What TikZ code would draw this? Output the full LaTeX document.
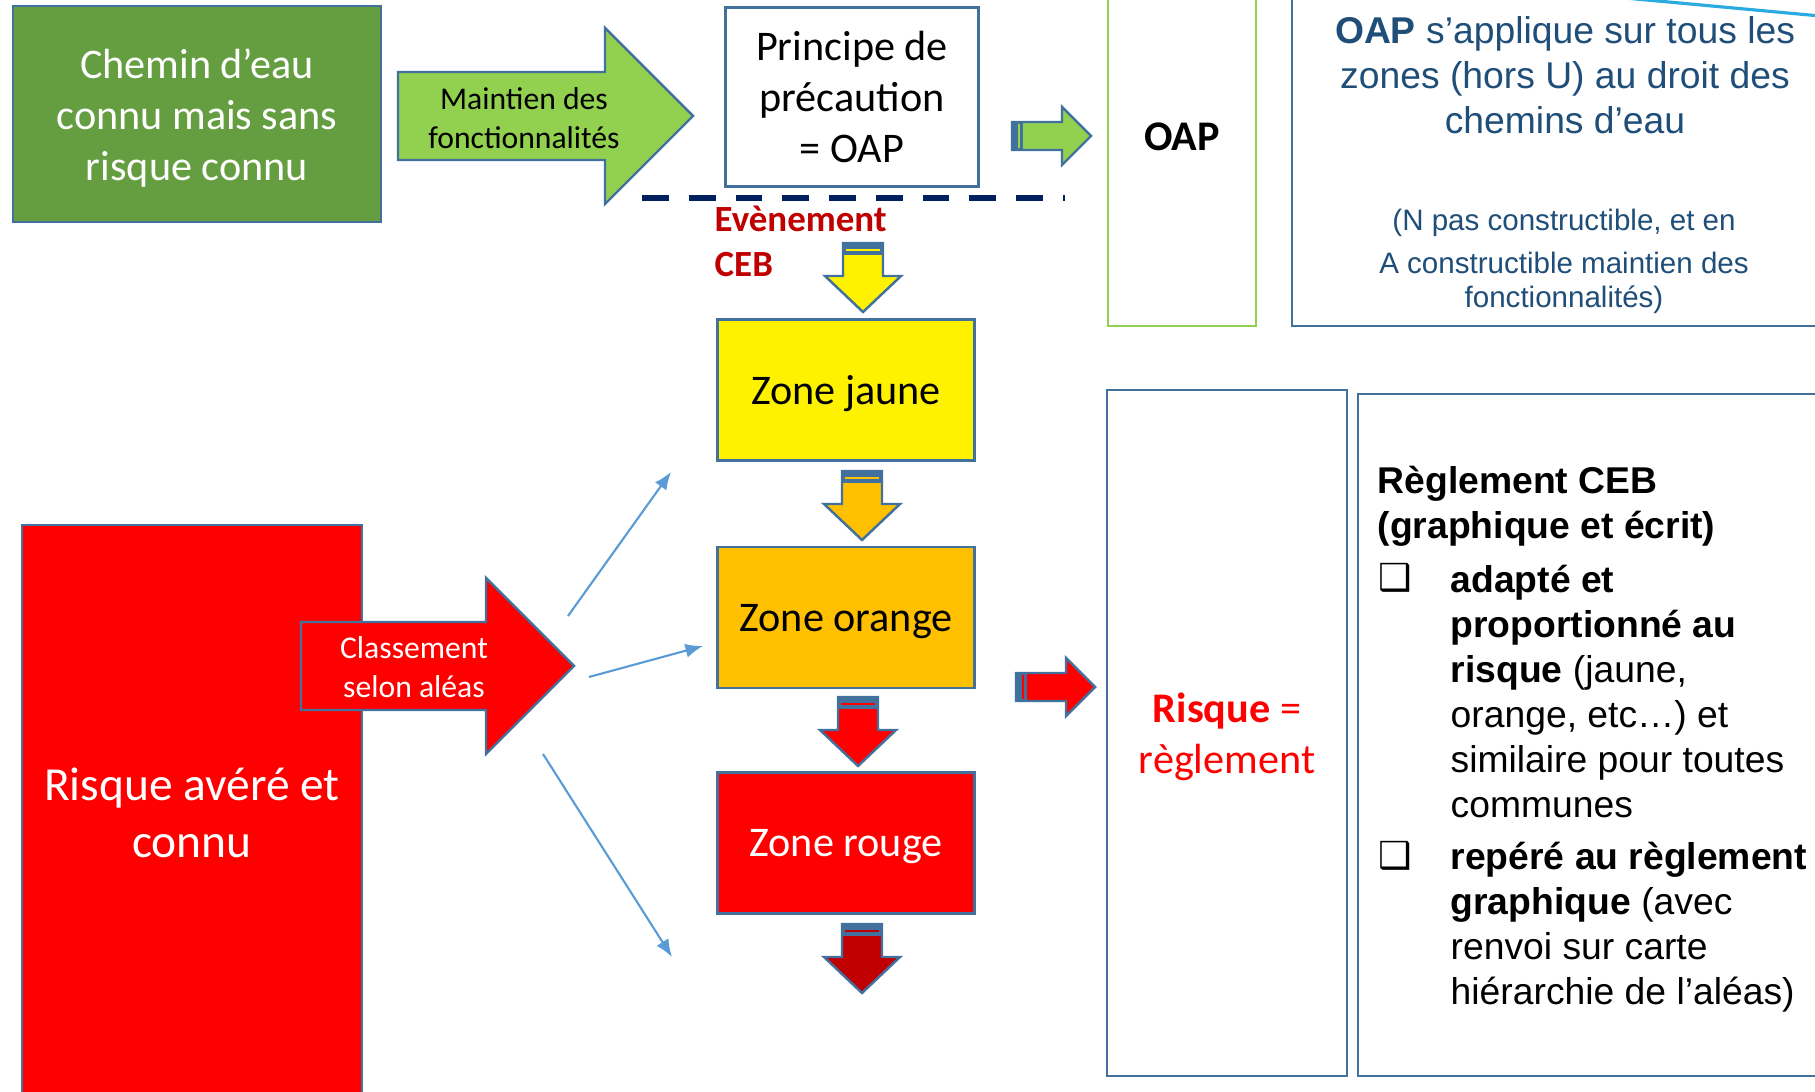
\documentclass[tikz,border=0pt]{standalone}
\usepackage{fontspec}
\setmainfont{Carlito}
\newfontfamily\arialfont{Liberation Sans}
\newfontfamily\symbfont{DejaVu Sans}
\usetikzlibrary{arrows.meta,positioning}
\definecolor{bordbleu}{RGB}{65,113,156}
\definecolor{vertfonce}{RGB}{100,158,64}
\definecolor{vertclair}{RGB}{146,208,80}
\definecolor{bleunuit}{RGB}{0,32,96}
\definecolor{rougefonce}{RGB}{192,0,0}
\definecolor{orangezone}{RGB}{255,192,0}
\definecolor{bleutexte}{RGB}{31,78,121}
\definecolor{bleufleche}{RGB}{91,155,213}
\definecolor{bleucoin}{RGB}{41,171,226}

\begin{document}
\begin{tikzpicture}[
    x=0.01cm, y=-0.01cm,
    cadre/.style={draw=bordbleu, line width=0.7pt, inner sep=0pt},
    zone/.style={cadre, minimum width=2.57cm, minimum height=1.41cm, text depth=0pt, font=\fontsize{12}{14.6}\selectfont},
    bloc/.style={draw=bordbleu, line width=0.7pt},
    fin/.style={draw=bleufleche, line width=0.6pt, -{Latex[length=5pt,width=4pt]}},
    arial/.style={font=\arialfont\fontsize{10.6}{12.8}\selectfont},
    flechebas/.pic={
        \draw[bloc, fill=#1] (-20,0) -- (-20,33) -- (-38,33) -- (0,69) -- (38,33) -- (20,33) -- (20,0) -- cycle;
        \fill[bordbleu] (-20,0) rectangle (20,12);
        \draw[#1, line width=0.5pt] (-17,7) -- (17,7);
    },
    flechedroite/.pic={
        \draw[bloc, fill=#1] (0,-14) -- (50,-14) -- (50,-29) -- (79,0) -- (50,29) -- (50,14) -- (0,14) -- cycle;
        \fill[bordbleu] (0,-14) rectangle (11,14);
        \draw[#1, line width=0.5pt] (7,-12) -- (7,12);
    }
]
\clip (0,0) rectangle (1815,1092);
\fill[white] (0,0) rectangle (1815,1092);

% chemin d'eau sans risque
\node[cadre, fill=vertfonce, minimum width=3.68cm, minimum height=2.16cm] (chemin) at (197,114) {};
\node[text=white, font=\fontsize{12}{14.6}\selectfont, align=center] (chemintexte) at (197,118) {Chemin d’eau\\connu mais sans\\risque connu};
\draw[bloc, fill=vertclair] (398,72) -- (605,72) -- (605,28) -- (693,116) -- (605,204) -- (605,160) -- (398,160) -- cycle;
\node[font=\fontsize{9}{10.9}\selectfont, align=center] (maintien) at (524,118) {Maintien des\\fonctionnalités};
\node[cadre, fill=white, minimum width=2.53cm, minimum height=1.79cm, font=\fontsize{12}{14.6}\selectfont, align=center] (principe) at (852,97) {Principe de\\précaution\\= OAP};
\coordinate (tiretg) at (642,198);
\coordinate (tiretd) at (1065,198);
\draw[bleunuit, line width=1.7pt, dash pattern=on 7.6pt off 5.7pt] (tiretg) -- (tiretd);
\node[anchor=west, text=rougefonce, font=\bfseries\fontsize{10.5}{12.8}\selectfont, align=left, inner sep=0pt] (evenement) at (714,241) {Evènement\\CEB};

% zones
\node[zone, fill=yellow] (jaune) at (846,390) {Zone jaune};
\node[zone, fill=orangezone, below=0.84cm of jaune] (orange) {Zone orange};
\node[zone, fill=red, text=white, below=0.82cm of orange] (rouge) {Zone rouge};
\pic (versjaune) at (863,243) {flechebas=yellow};
\pic (versorange) at (862,471) {flechebas=orangezone};
\pic (versrouge) at (858,697) {flechebas=red};
\pic (sousrouge) at (862,924) {flechebas=rougefonce};
\pic (versoap) at (1012,136) {flechedroite=vertclair};
\pic (versreglement) at (1016,687) {flechedroite=red};

% OAP
\node[draw=vertclair, line width=0.8pt, minimum width=1.48cm, minimum height=3.4cm] (cadreoap) at (1182,156) {};
\node[font=\bfseries\fontsize{12}{14.6}\selectfont] (oap) at (1182,137) {OAP};
\node[cadre, minimum width=5.4cm, minimum height=3.4cm] (cadreportee) at (1562,156) {};
\node[arial, text=bleutexte, align=center] (portee) at (1565,75) {\textbf{OAP} s’applique sur tous les\\zones (hors U) au droit des\\chemins d’eau};
\node[font=\arialfont\fontsize{8.4}{9.7}\selectfont, text=bleutexte, align=center] (constructible) at (1564,261) {(N pas constructible, et en\\[2.5pt]A constructible maintien des\\fonctionnalités)};
\coordinate (coing) at (1625,-2);
\coordinate (coind) at (1820,16);
\draw[bleucoin, line width=0.9pt] (coing) -- (coind);

% reglement
\node[cadre, minimum width=2.4cm, minimum height=6.86cm] (cadrerisque) at (1227,733) {};
\node[text=red, font=\fontsize{12}{14.6}\selectfont, align=center] (risque) at (1227,737) {\textbf{Risque} =\\règlement};
\node[cadre, minimum width=4.72cm, minimum height=6.82cm] (cadreregle) at (1594,735) {};
\node[arial, anchor=north west, align=left, inner sep=0pt] (titre) at (1377,465) {\textbf{Règlement CEB}\\\textbf{(graphique et écrit)}};
\node[font=\symbfont\fontsize{10.6}{12.8}\selectfont, inner sep=0pt] (puce1) at (1395,578) {❑};
\node[arial, anchor=north west, align=left, inner sep=0pt] (item1) at (1450,564) {\textbf{adapté et}\\\textbf{proportionné au}\\\textbf{risque} (jaune,\\orange, etc…) et\\similaire pour toutes\\communes};
\node[font=\symbfont\fontsize{10.6}{12.8}\selectfont, inner sep=0pt] (puce2) at (1395,856) {❑};
\node[arial, anchor=north west, align=left, inner sep=0pt] (item2) at (1450,841) {\textbf{repéré au règlement}\\\textbf{graphique} (avec\\renvoi sur carte\\hiérarchie de l’aléas)};

% risque avere
\node[cadre, fill=red, text=white, minimum width=3.4cm, minimum height=5.76cm, font=\fontsize{13.5}{16.3}\selectfont, align=center] (risqueconnu) at (192,813) {Risque avéré et\\connu};
\draw[bloc, fill=red] (301,622) -- (486,622) -- (486,578) -- (574,666) -- (486,754) -- (486,710) -- (301,710) -- cycle;
\node[text=white, font=\fontsize{9}{10.9}\selectfont, align=center] (classement) at (414,667) {Classement\\selon aléas};
\coordinate (depart1) at (568,616);
\coordinate (fin1) at (671,472);
\coordinate (depart2) at (589,677);
\coordinate (fin2) at (703,646);
\coordinate (depart3) at (543,754);
\coordinate (fin3) at (672,957);
\draw[fin] (depart1) -- (fin1);
\draw[fin] (depart2) -- (fin2);
\draw[fin] (depart3) -- (fin3);
\end{tikzpicture}
\end{document}
